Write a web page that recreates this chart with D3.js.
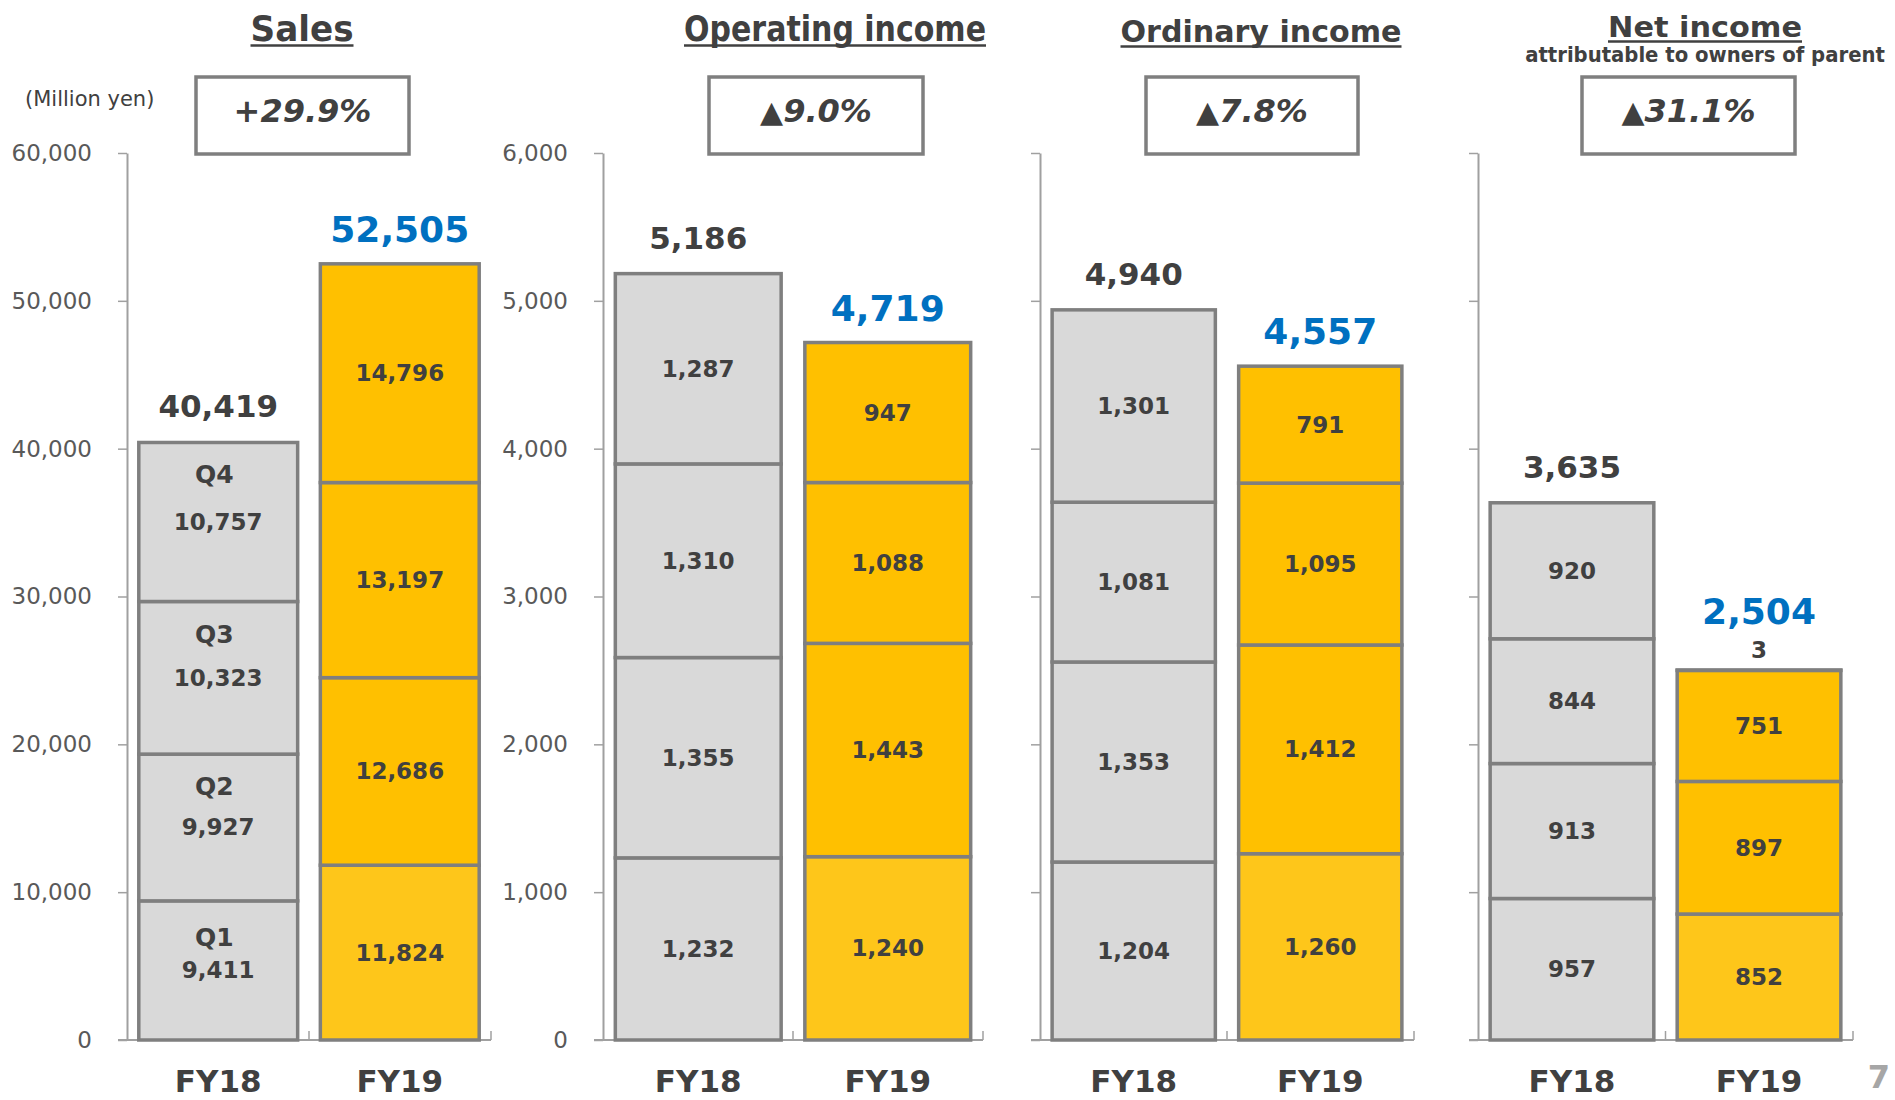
<!DOCTYPE html>
<html>
<head>
<meta charset="utf-8">
<script src="https://cdn.jsdelivr.net/npm/d3@7"></script>
<style>
  body { margin: 0; background: #fff; }
  svg { display: block; font-family: "DejaVu Sans", Verdana, sans-serif; }
</style>
</head>
<body>
<svg id="chart" width="1895" height="1100"></svg>
<script>
// values (million yen)
const years = ["FY18", "FY19"];
const quarters = ["Q1", "Q2", "Q3", "Q4"];

const salesFY18 = [9411, 9927, 10323, 10757];
const salesFY19 = [11824, 12686, 13197, 14796];
const salesTotals = [40419, 52505];

const opFY18 = [1232, 1355, 1310, 1287];
const opFY19 = [1240, 1443, 1088, 947];
const opTotals = [5186, 4719];

const ordFY18 = [1204, 1353, 1081, 1301];
const ordFY19 = [1260, 1412, 1095, 791];
const ordTotals = [4940, 4557];

const netFY18 = [957, 913, 844, 920];
const netFY19 = [852, 897, 751, 3];
const netTotals = [3635, 2504];

const titles = ["Sales", "Operating income", "Ordinary income", "Net income"];
const changes = ["+29.9%", "▲9.0%", "▲7.8%", "▲31.1%"];
const yMaxes = [60000, 6000, 6000, 6000];
const yTicks = [
  [0, 10000, 20000, 30000, 40000, 50000, 60000],
  [0, 1000, 2000, 3000, 4000, 5000, 6000],
  [0, 1000, 2000, 3000, 4000, 5000, 6000],
  [0, 1000, 2000, 3000, 4000, 5000, 6000]
];

const series = [
  [salesFY18, salesFY19, salesTotals],
  [opFY18, opFY19, opTotals],
  [ordFY18, ordFY19, ordTotals],
  [netFY18, netFY19, netTotals]
];

// layout
const panels = [
  { x0: 127, x1: 491, labels: true, titleX: 302, titleY: 41, titleSize: 35, titleW: 103, boxX: 196, boxW: 213 },
  { x0: 603, x1: 983, labels: true, titleX: 835, titleY: 41, titleSize: 35, titleW: 302, boxX: 709, boxW: 214 },
  { x0: 1040, x1: 1414, labels: false, titleX: 1261, titleY: 42, titleSize: 31, titleW: 281, boxX: 1146, boxW: 212 },
  { x0: 1478, x1: 1853, labels: false, titleX: 1705, titleY: 37, titleSize: 29, titleW: 194, boxX: 1582, boxW: 213 }
];
const qLabelGap = [33, 41, 44, 48]; // distance of "Qn" above the value in the Sales FY18 bar
const yBottom = 1040, yTop = 153;
const textCol = "#404040";
const fy18Fill = "#d9d9d9";
const fy19Fills = ["#fec61a", "#ffc000", "#ffc000", "#ffc000"];

const svg = d3.select("#chart");

svg.append("text")
  .attr("x", 25).attr("y", 106)
  .attr("font-size", 21).attr("fill", textCol)
  .text("(Million yen)");

panels.forEach(function(p, i) {
  const g = svg.append("g");
  const [a, b, totals] = series[i];
  const rows = years.map(function(yr, k) {
    const src = k === 0 ? a : b;
    const row = { year: yr };
    quarters.forEach(function(q, j) { row[q] = src[j]; });
    return row;
  });

  const x = d3.scaleBand().domain(years).range([p.x0, p.x1]).paddingInner(0.125).paddingOuter(0.065);
  const y = d3.scaleLinear().domain([0, yMaxes[i]]).range([yBottom, yTop]);

  // title
  g.append("text")
    .attr("x", p.titleX).attr("y", p.titleY)
    .attr("text-anchor", "middle")
    .attr("font-size", p.titleSize).attr("font-weight", "bold")
    .attr("fill", textCol)
    .attr("textLength", p.titleW).attr("lengthAdjust", "spacingAndGlyphs")
    .text(titles[i]);
  g.append("line")
    .attr("x1", p.titleX - p.titleW / 2).attr("x2", p.titleX + p.titleW / 2)
    .attr("y1", p.titleY + 4.5).attr("y2", p.titleY + 4.5)
    .attr("stroke", textCol).attr("stroke-width", 2.5);

  if (i === 3) {
    // narrow subtitle: squeeze horizontally to the reference width
    const sub = g.append("text")
      .attr("x", 0).attr("y", 0)
      .attr("text-anchor", "middle")
      .attr("font-size", 21).attr("font-weight", "bold").attr("fill", textCol)
      .text("attributable to owners of parent");
    const sx = 360 / sub.node().getComputedTextLength();
    sub.attr("transform", "translate(1705,62) scale(" + sx + ",1)");
  }

  // change box
  g.append("rect")
    .attr("x", p.boxX).attr("y", 77)
    .attr("width", p.boxW).attr("height", 77)
    .attr("fill", "#fff").attr("stroke", "#7f7f7f").attr("stroke-width", 3.5);
  const ct = g.append("text")
    .attr("x", p.boxX + p.boxW / 2).attr("y", 122)
    .attr("text-anchor", "middle")
    .attr("font-size", 32).attr("font-weight", "bold").attr("fill", textCol);
  const ch = changes[i];
  if (ch[0] === "▲") {
    ct.append("tspan").attr("font-size", 30).text("▲");
    ct.append("tspan").attr("font-style", "italic").text(ch.slice(1));
  } else {
    ct.append("tspan").attr("font-style", "italic").text(ch);
  }

  // y axis
  const yAxis = d3.axisLeft(y)
    .tickValues(yTicks[i])
    .tickSize(9).tickSizeOuter(0).tickPadding(26)
    .tickFormat(p.labels ? d3.format(",") : function() { return ""; });
  const ag = g.append("g").attr("transform", "translate(" + p.x0 + ",0)").call(yAxis);
  ag.select(".domain").attr("stroke", "#a0a0a0").attr("stroke-width", 2);
  ag.selectAll(".tick line").attr("stroke", "#a0a0a0").attr("stroke-width", 1.5);
  ag.selectAll(".tick text")
    .attr("font-size", 23).attr("fill", "#595959")
    .attr("font-family", "'DejaVu Sans', Verdana, sans-serif");

  // x axis baseline with band separators
  const step = x.step();
  g.append("line")
    .attr("x1", p.x0 - 9).attr("x2", p.x1)
    .attr("y1", yBottom).attr("y2", yBottom)
    .attr("stroke", "#a0a0a0").attr("stroke-width", 2);
  const seps = [x(years[1]) - step * x.paddingInner() / 2, p.x1];
  g.selectAll(".sep").data(seps).enter().append("line")
    .attr("x1", function(d) { return d; }).attr("x2", function(d) { return d; })
    .attr("y1", yBottom).attr("y2", yBottom - 9)
    .attr("stroke", "#a0a0a0").attr("stroke-width", 1.5);

  // stacked bars
  const stack = d3.stack().keys(quarters)(rows);
  stack.forEach(function(layer, j) {
    g.selectAll(".seg" + j).data(layer).enter().append("rect")
      .attr("x", function(d) { return x(d.data.year); })
      .attr("y", function(d) { return y(d[1]); })
      .attr("width", x.bandwidth())
      .attr("height", function(d) { return y(d[0]) - y(d[1]); })
      .attr("fill", function(d) { return d.data.year === "FY18" ? fy18Fill : fy19Fills[j]; })
      .attr("stroke", "#7f7f7f").attr("stroke-width", 3.5);
  });

  // segment labels
  stack.forEach(function(layer, j) {
    layer.forEach(function(d, k) {
      const cx = x(d.data.year) + x.bandwidth() / 2;
      const h = y(d[0]) - y(d[1]);
      const v = d[1] - d[0];
      if (h < 20) {
        g.append("text")
          .attr("x", cx).attr("y", y(d[1]) - 12)
          .attr("text-anchor", "middle")
          .attr("font-size", 23).attr("font-weight", "bold").attr("fill", textCol)
          .text(d3.format(",")(v));
        return;
      }
      const cy = (y(d[0]) + y(d[1])) / 2;
      const showQ = i === 0 && k === 0;
      g.append("text")
        .attr("x", cx).attr("y", cy + 8)
        .attr("text-anchor", "middle")
        .attr("font-size", 23).attr("font-weight", "bold").attr("fill", textCol)
        .text(d3.format(",")(v));
      if (showQ) {
        g.append("text")
          .attr("x", cx - 4).attr("y", cy + 9 - qLabelGap[j])
          .attr("text-anchor", "middle")
          .attr("font-size", 25).attr("font-weight", "bold").attr("fill", textCol)
          .text(quarters[j]);
      }
    });
  });

  // totals
  const last = stack[stack.length - 1];
  g.selectAll(".total").data(last).enter().append("text")
    .attr("x", function(d) { return x(d.data.year) + x.bandwidth() / 2; })
    .attr("y", function(d, k) {
      const small = (y(d[0]) - y(d[1])) < 20;
      return y(d[1]) - (small ? 46 : (k === 0 ? 25 : 22));
    })
    .attr("text-anchor", "middle")
    .attr("font-weight", "bold")
    .attr("font-size", function(d, k) { return k === 0 ? 31 : 36; })
    .attr("fill", function(d, k) { return k === 0 ? textCol : "#0070c0"; })
    .text(function(d, k) { return d3.format(",")(totals[k]); });

  // category labels
  g.selectAll(".cat").data(years).enter().append("text")
    .attr("x", function(d) { return x(d) + x.bandwidth() / 2; })
    .attr("y", 1092)
    .attr("text-anchor", "middle")
    .attr("font-size", 31).attr("font-weight", "bold").attr("fill", textCol)
    .text(function(d) { return d; });
});

// page number
svg.append("text")
  .attr("x", 1890).attr("y", 1088)
  .attr("text-anchor", "end")
  .attr("font-size", 32).attr("font-weight", "bold").attr("fill", "#a6a6a6")
  .text("7");
</script>
</body>
</html>
